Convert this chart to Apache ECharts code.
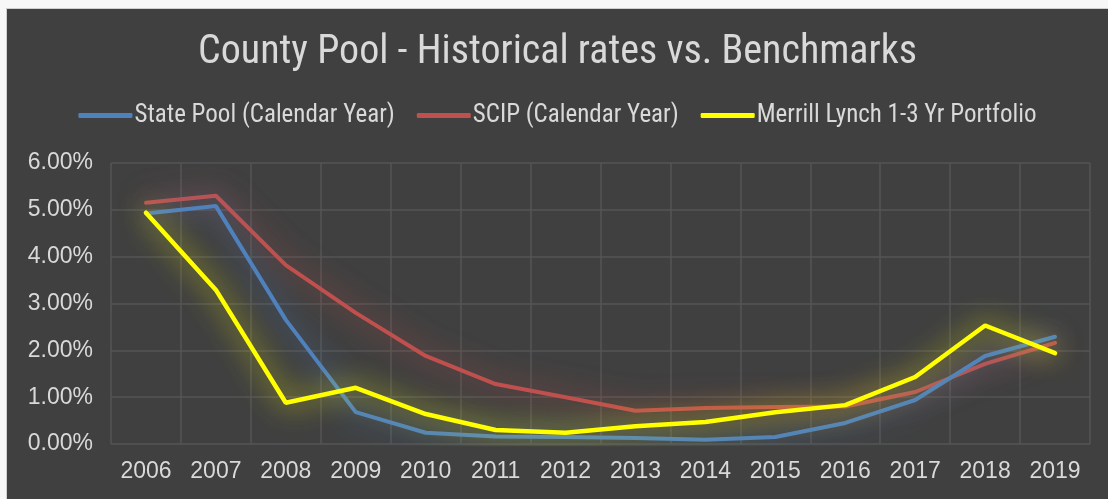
<!DOCTYPE html>
<html>
<head>
<meta charset="utf-8">
<script src="https://cdn.jsdelivr.net/npm/echarts@6/dist/echarts.min.js"></script>
<style>
  html, body { margin: 0; padding: 0; background: #f7f7f7; }
  #wrap { position: absolute; left: 6px; top: 8px; width: 1102px; height: 491px;
          border-left: 1px solid #cfcfcf; border-top: 1px solid #cfcfcf; background: #404040; }
  #chart { width: 1101px; height: 490px; }
</style>
</head>
<body>
<div id="wrap"><div id="chart"></div></div>
<script>
/*********** 数据 ***********/
var years = ['2006', '2007', '2008', '2009', '2010', '2011', '2012', '2013', '2014', '2015', '2016', '2017', '2018', '2019'];
var statePool = [4.92, 5.08, 2.65, 0.68, 0.24, 0.16, 0.15, 0.13, 0.09, 0.15, 0.45, 0.94, 1.88, 2.29];
var scip = [5.15, 5.30, 3.82, 2.80, 1.88, 1.28, 1.00, 0.71, 0.77, 0.79, 0.80, 1.11, 1.71, 2.16];
var merrill = [4.94, 3.29, 0.88, 1.20, 0.64, 0.30, 0.24, 0.38, 0.47, 0.68, 0.83, 1.43, 2.53, 1.94];
var yTicks = [0, 1, 2, 3, 4, 5, 6];

var names = ['State Pool (Calendar Year)', 'SCIP (Calendar Year)', 'Merrill Lynch 1-3 Yr Portfolio'];
var colors = ['#4f81bd', '#c0504d', '#ffff00'];
var values = [statePool, scip, merrill];

var font = '"Liberation Sans Narrow", "Roboto Condensed", "Liberation Sans", sans-serif';
var numFont = '"Liberation Sans", Arial, sans-serif';
var textColor = '#d9d9d9';

var myChart = echarts.init(document.getElementById('chart'));

var series = [];
for (var i = 0; i < 3; i++) {
    series.push({
        name: names[i],
        type: 'line',
        data: values[i],
        symbol: 'none',
        lineStyle: {
            color: colors[i],
            width: i == 2 ? 4.5 : 4,
            cap: 'round',
            shadowColor: colors[i],
            shadowBlur: 28
        },
        itemStyle: { color: colors[i] },
        z: i == 2 ? 4 : 3 - i
    });
}

var option = {
    backgroundColor: '#404040',
    animation: false,
    title: {
        text: 'County Pool - Historical rates vs. Benchmarks',
        left: 'center',
        top: 19,
        textStyle: { color: textColor, fontFamily: font, fontWeight: 'normal', fontSize: 40 }
    },
    legend: {
        top: 89,
        left: 'center',
        itemWidth: 54,
        itemHeight: 5,
        itemGap: 22,
        icon: 'roundRect',
        textStyle: { color: textColor, fontFamily: font, fontSize: 25, padding: [0, 0, 0, -3] },
        data: names
    },
    grid: { left: 104, right: 18, top: 154, bottom: 55, containLabel: false },
    xAxis: {
        type: 'category',
        data: years,
        boundaryGap: true,
        axisLine: { show: false },
        axisTick: { show: false },
        splitLine: { show: true, lineStyle: { color: '#555555', width: 1.5 } },
        axisLabel: { color: textColor, fontFamily: numFont, fontSize: 23, margin: 16, interval: 0 }
    },
    yAxis: {
        type: 'value',
        min: yTicks[0],
        max: yTicks[yTicks.length - 1],
        interval: 1,
        axisLine: { show: false },
        axisTick: { show: false },
        splitLine: { lineStyle: { color: '#555555', width: 1.5 } },
        axisLabel: {
            color: textColor,
            fontFamily: numFont,
            fontSize: 23,
            margin: 18,
            formatter: function(v) { return v.toFixed(2) + '%'; }
        }
    },
    series: series
};

myChart.setOption(option);
</script>
</body>
</html>
